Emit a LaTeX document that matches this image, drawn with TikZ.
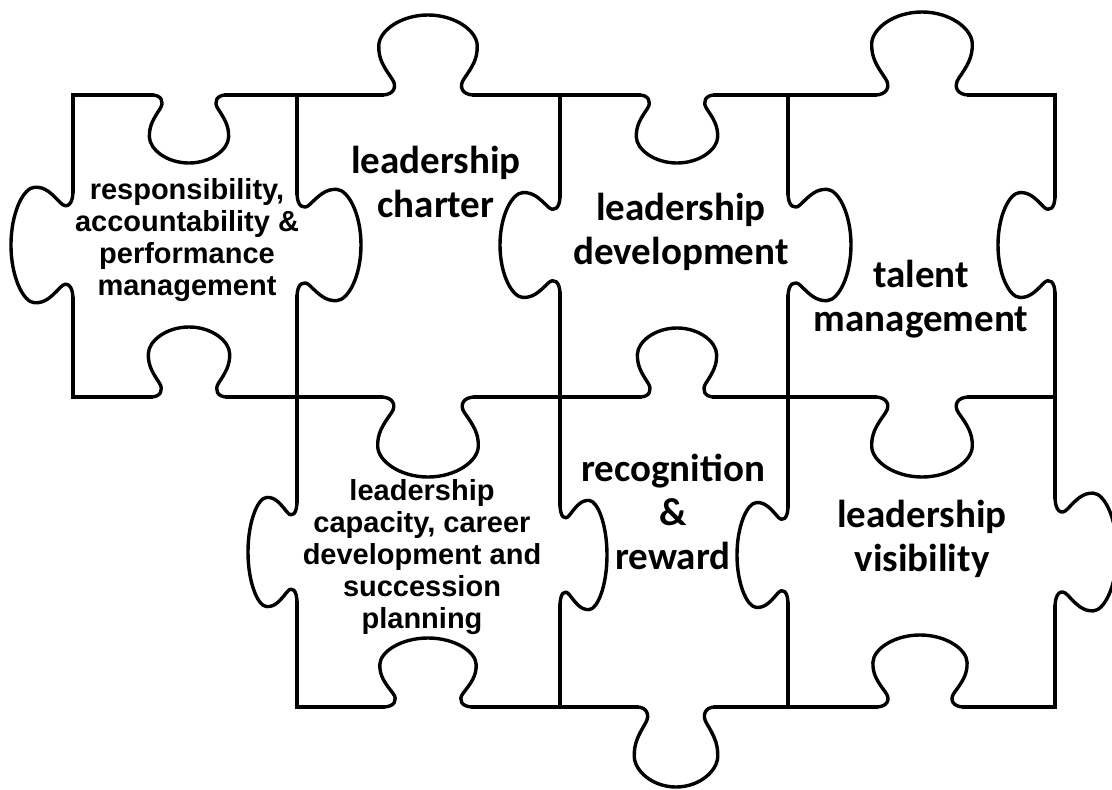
\documentclass[tikz,border=0pt]{standalone}
\usepackage{fontspec}
\setmainfont{Carlito}
\newfontfamily\arialfont{Liberation Sans}

% one knob or socket on a horizontal edge: centre x, edge y, half width, depth (+ down, - up)
\newcommand{\htab}[4]{%
  \draw[outline, shift={(#1,#2)}, xscale=#3, yscale=#4]
    (-1,0) .. controls (-0.75,0) and (-0.66,0.1) .. (-0.78,0.2)
    .. controls (-0.96,0.35) and (-1.08,0.45) .. (-1.07,0.62)
    .. controls (-1.06,0.8) and (-0.6,1) .. (0,1)
    .. controls (0.6,1) and (1.06,0.8) .. (1.07,0.62)
    .. controls (1.08,0.45) and (0.96,0.35) .. (0.78,0.2)
    .. controls (0.66,0.1) and (0.75,0) .. (1,0);}
% the same on a vertical edge: edge x, centre y, half width, depth (+ right, - left)
\newcommand{\vtab}[4]{%
  \draw[outline, shift={(#1,#2)}, xscale=#4, yscale=#3]
    (0,-1) .. controls (0,-0.75) and (0.1,-0.66) .. (0.2,-0.78)
    .. controls (0.35,-0.96) and (0.45,-1.08) .. (0.62,-1.07)
    .. controls (0.8,-1.06) and (1,-0.6) .. (1,0)
    .. controls (1,0.6) and (0.8,1.06) .. (0.62,1.07)
    .. controls (0.45,1.08) and (0.35,0.96) .. (0.2,0.78)
    .. controls (0.1,0.66) and (0,0.75) .. (0,1);}

\tikzset{
  outline/.style={line width=3.4pt, line cap=rect, line join=round},
  biglabel/.style={align=center, inner sep=0pt, font=\bfseries\fontsize{39}{44}\selectfont},
  smalllabel/.style={align=center, inner sep=0pt, font=\arialfont\bfseries\fontsize{29}{32}\selectfont},
}

\begin{document}
\begin{tikzpicture}[x=1pt, y=-1pt]
  \useasboundingbox (0,0) rectangle (1112,790);
  % horizontal edges
  \draw[outline] (73,95) -- (152,95) (226,95) -- (382,95) (474,95) -- (639,95)
    (715,95) -- (875,95) (969,95) -- (1055,95);
  \htab{189}{95}{37}{68}
  \htab{428}{95}{46}{-80}
  \htab{677}{95}{38}{68}
  \htab{922}{95}{47}{-83}
  \draw[outline] (73,397) -- (151,397) (227,397) -- (381,397) (475,397) -- (640,397)
    (714,397) -- (875,397) (969,397) -- (1055,397);
  \htab{189}{397}{38}{-70}
  \htab{428}{397}{47}{80}
  \htab{677}{397}{37}{-69}
  \htab{922}{397}{47}{80}
  \draw[outline] (297,707) -- (383,707) (473,707) -- (637,707)
    (715,707) -- (876,707) (964,707) -- (1055,707);
  \htab{428}{707}{45}{-69}
  \htab{676}{707}{39}{80}
  \htab{920}{707}{44}{-72}
  % vertical edges
  \draw[outline] (73,95) -- (73,191) (73,299) -- (73,397);
  \vtab{73}{245}{54}{-62}
  \draw[outline] (297,95) -- (297,193) (297,297) -- (297,397)
    (297,397) -- (297,501) (297,603) -- (297,707);
  \vtab{297}{245}{52}{64}
  \vtab{297}{552}{51}{-49}
  \draw[outline] (560,95) -- (560,196) (560,294) -- (560,397)
    (560,397) -- (560,504) (560,606) -- (560,707);
  \vtab{560}{245}{49}{-60}
  \vtab{560}{555}{51}{47}
  \draw[outline] (788,95) -- (788,193) (788,297) -- (788,397)
    (788,397) -- (788,506) (788,604) -- (788,707);
  \vtab{788}{245}{52}{63}
  \vtab{788}{555}{49}{-51}
  \draw[outline] (1055,95) -- (1055,196) (1055,294) -- (1055,397)
    (1055,397) -- (1055,497) (1055,607) -- (1055,707);
  \vtab{1055}{245}{49}{-57}
  \vtab{1055}{552}{55}{62}
  % labels
  \node[smalllabel] (resp) at (187,240) {responsibility,\\accountability \&\\performance\\management};
  \node[biglabel] (charter) at (436,182) {leadership\\charter};
  \node[biglabel] (develop) at (681,232) {leadership\\development};
  \node[biglabel] (talent) at (921,299) {talent\\management};
  \node[smalllabel] (capacity) at (422,557) {leadership\\capacity, career\\development and\\succession\\planning};
  \node[biglabel] (reward) at (673,512) {recognition\\\&\\reward};
  \node[biglabel] (visible) at (922,539) {leadership\\visibility};
\end{tikzpicture}
\end{document}
